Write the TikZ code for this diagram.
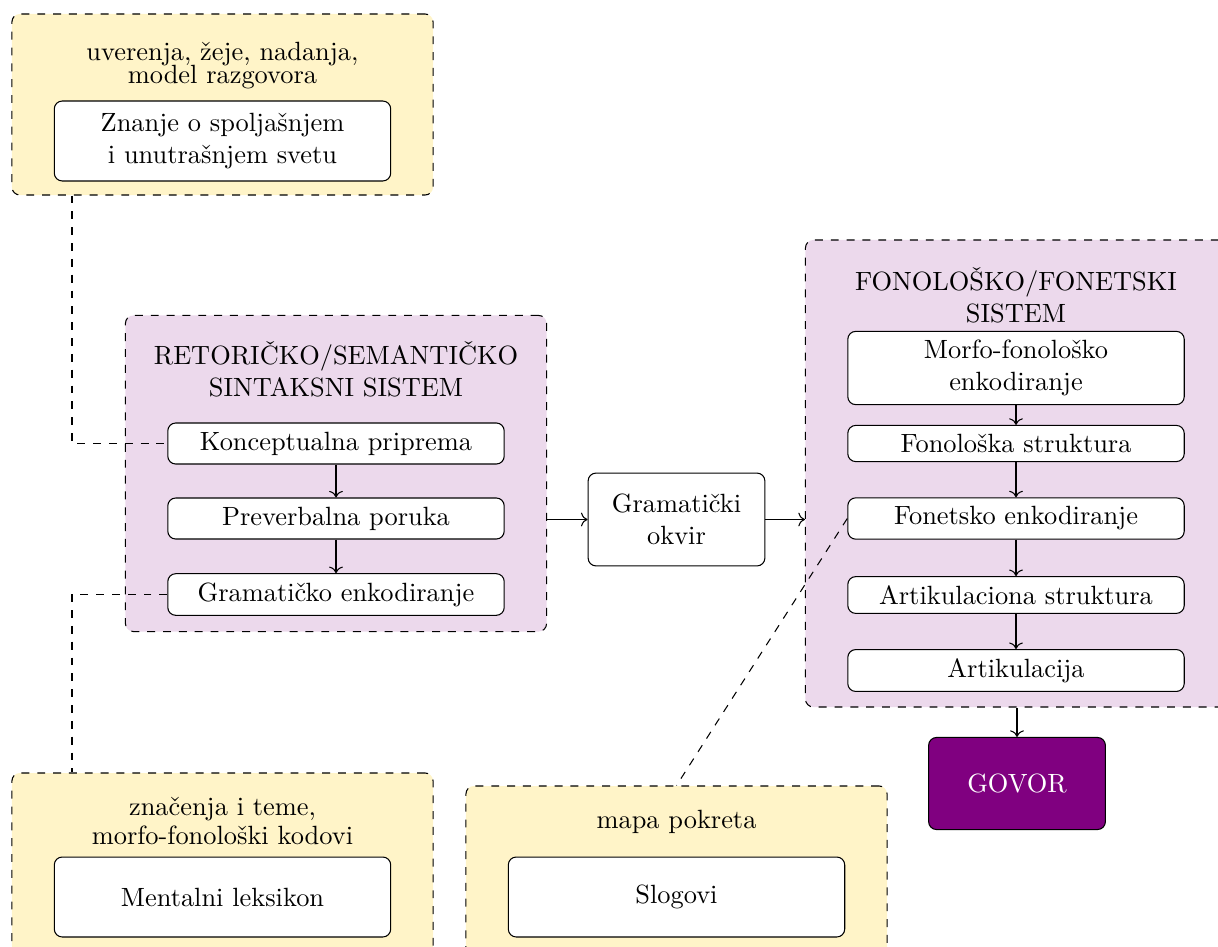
\documentclass[tikz,border=0pt]{standalone}
\usepackage{fontspec}
\usetikzlibrary{arrows.meta}
\definecolor{ylw}{HTML}{FFF4C8}
\definecolor{prp}{HTML}{800080}
\begin{document}
\begin{tikzpicture}[x=0.379pt,y=-0.379pt,
  ybox/.style={draw,dashed,rounded corners=3pt,fill=ylw,inner sep=0pt,minimum width=159.6pt,minimum height=68.6pt},
  pbox/.style={draw,dashed,rounded corners=3pt,fill=prp!15,inner sep=0pt,minimum width=159.6pt},
  wbox/.style={draw,rounded corners=3pt,fill=white,minimum width=127.5pt,align=center},
  lbl/.style={align=center,inner sep=0pt},
  conn/.style={->},
  dconn/.style={dashed}]
\useasboundingbox (0,0) rectangle (1218,946);
\clip (0,0) rectangle (1218,946);
% yellow groups
\node[ybox] (topY) at (222.5,104.5) {};
\node[lbl] (topL) at (222.5,65.5) {uverenja, žeje, nadanja,\\[-3pt]model razgovora};
\node[wbox,minimum height=30.3pt] (znanje) at (222.5,141) {Znanje o spoljašnjem\\i unutrašnjem svetu};
\node[ybox] (lexY) at (222.5,863.5) {};
\node[lbl] (lexL) at (222.5,821) {značenja i teme,\\[-0.7pt]morfo-fonološki kodovi};
\node[wbox,minimum height=30.3pt] (lex) at (222.5,897) {Mentalni leksikon};
\node[ybox] (mapaY) at (676.5,876.5) {};
\node[lbl,anchor=base] (mapaL) at (676.5,828) {mapa pokreta};
\node[wbox,minimum height=30.3pt] (slog) at (676.5,897) {Slogovi};
% left purple group
\node[pbox,minimum height=119.8pt] (leftP) at (336,473.5) {};
\node[lbl] (leftT) at (336,369.5) {RETORIČKO/SEMANTIČKO\\SINTAKSNI SISTEM};
\node[wbox] (konc) at (336,443.5) {Konceptualna priprema};
\node[wbox] (prev) at (336,518.5) {Preverbalna poruka};
\node[wbox] (gram) at (336,594.5) {Gramatičko enkodiranje};
% middle
\node[draw,rounded corners=3pt,fill=white,align=center,minimum width=67pt,minimum height=35.2pt] (okvir) at (676.5,519.5) {Gramatički\\okvir};
% right purple group
\node[pbox,minimum height=177pt] (rightP) at (1016,473.5) {};
\node[lbl] (rightT) at (1016,295) {FONOLOŠKO/FONETSKI\\SISTEM};
\node[wbox] (morfo) at (1016,368) {Morfo-fonološko\\enkodiranje};
\node[wbox] (fonol) at (1016,443.5) {Fonološka struktura};
\node[wbox] (fonet) at (1016,518.5) {Fonetsko enkodiranje};
\node[wbox] (artstr) at (1016,595) {Artikulaciona struktura};
\node[wbox] (artik) at (1016,670.5) {Artikulacija};
\node[draw,rounded corners=3pt,fill=prp,text=white,minimum width=67pt,minimum height=34.9pt] (govor) at (1017,783.5) {GOVOR};
% connectors
\coordinate (lx) at (72,0);
\draw[dconn] (topY.south -| lx) |- (konc.west);
\draw[dconn] (gram.west) -| (lexY.north -| lx);
\draw[conn] (konc) -- (prev);
\draw[conn] (prev) -- (gram);
\draw[conn] (leftP.east |- okvir.west) -- (okvir.west);
\draw[conn] (okvir.east) -- (okvir.east -| rightP.west);
\draw[conn] (morfo) -- (fonol);
\draw[conn] (fonol) -- (fonet);
\draw[conn] (fonet) -- (artstr);
\draw[conn] (artstr) -- (artik);
\draw[dconn] (fonet.west) -- (mapaY.north);
\draw[conn] (rightP.south -| govor.north) -- (govor.north);
\end{tikzpicture}
\end{document}
